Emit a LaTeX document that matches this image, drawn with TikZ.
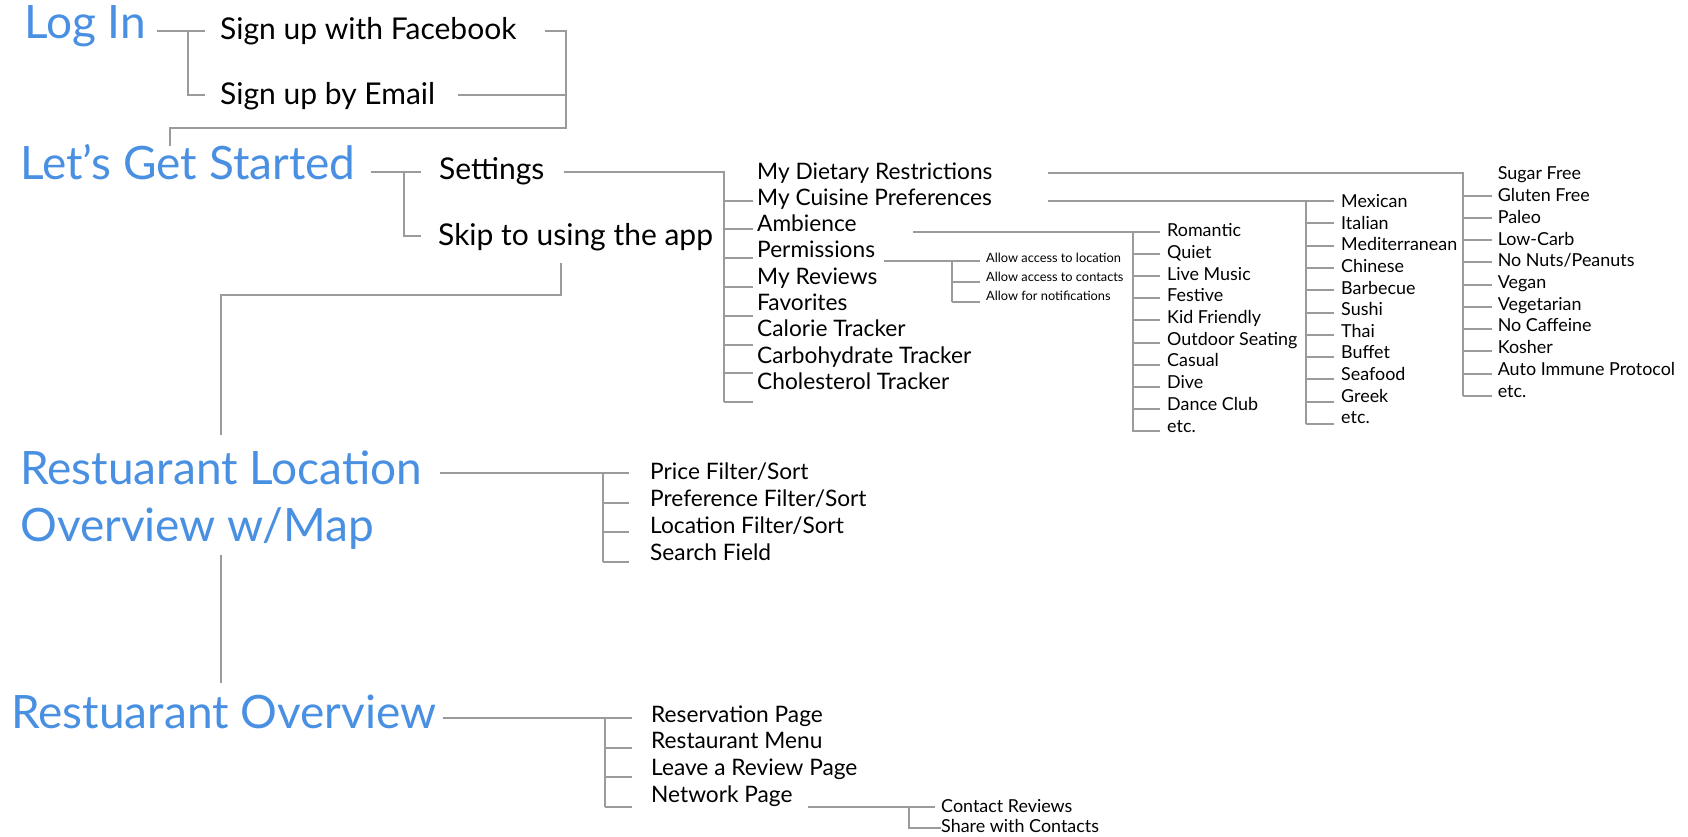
\documentclass[tikz,border=0pt]{standalone}
\usepackage{fontspec}
\setmainfont{Lato}
\definecolor{headblue}{HTML}{4A90E2}
\definecolor{linegray}{HTML}{9B9B9B}
\tikzset{
  head/.style={font=\fontsize{46}{52}\selectfont, text=headblue, inner sep=0pt, anchor=base west},
  choice/.style={font=\fontsize{30}{36}\selectfont, inner sep=0pt, anchor=base west},
  item/.style={font=\fontsize{22.7}{27}\selectfont, inner sep=0pt, anchor=base west},
  subitem/.style={font=\fontsize{17.9}{21}\selectfont, inner sep=0pt, anchor=base west},
  tinyitem/.style={font=\fontsize{12.8}{15}\selectfont, inner sep=0pt, anchor=base west},
  link/.style={draw=linegray, line width=2pt},
}
\begin{document}
\begin{tikzpicture}[x=1pt,y=-1pt]
  \useasboundingbox[fill=white] (0,0) rectangle (1688,837);

  % main screens
  \node[head] (login) at (24,38.5) {Log In};
  \node[head] (started) at (20,180) {Let’s Get Started};
  \node[head] (location) at (20,484) {Restuarant Location};
  \node[head] (locmap) at (20,541.7) {Overview w/Map};
  \node[head] (overview) at (11,728.3) {Restuarant Overview};

  % choices
  \node[choice] (facebook) at (220,39.3) {Sign up with Facebook};
  \node[choice] (email) at (220,105) {Sign up by Email};
  \node[choice] (settings) at (439,180) {Settings};
  \node[choice] (skip) at (438,245) {Skip to using the app};

  % settings menu
  \foreach \t [count=\i] in {My Dietary Restrictions,My Cuisine Preferences,Ambience,Permissions,My Reviews,Favorites,Calorie Tracker,Carbohydrate Tracker,Cholesterol Tracker}
    \node[item] (set\i) at (757,{179+26.3*(\i-1)}) {\t};

  % dietary restrictions
  \foreach \t [count=\i] in {Sugar Free,Gluten Free,Paleo,Low-Carb,No Nuts/Peanuts,Vegan,Vegetarian,No Caffeine,Kosher,Auto Immune Protocol,etc.}
    \node[subitem] (diet\i) at (1497.6,{180+21.7*(\i-1)}) {\t};

  % cuisine preferences
  \foreach \t [count=\i] in {Mexican,Italian,Mediterranean,Chinese,Barbecue,Sushi,Thai,Buffet,Seafood,Greek,etc.}
    \node[subitem] (cuis\i) at (1341,{207.7+21.6*(\i-1)}) {\t};

  % ambience
  \foreach \t [count=\i] in {Romantic,Quiet,Live Music,Festive,Kid Friendly,Outdoor Seating,Casual,Dive,Dance Club,etc.}
    \node[subitem] (amb\i) at (1167,{236.7+21.7*(\i-1)}) {\t};

  % permissions
  \node[tinyitem] (perm1) at (986,262.7) {Allow access to location};
  \node[tinyitem] (perm2) at (986,281.7) {Allow access to contacts};
  \node[tinyitem] (perm3) at (986,300.7) {Allow for notifications};

  % location overview
  \node[item] (price) at (650,479.7) {Price Filter/Sort};
  \node[item] (pref) at (650,506.6) {Preference Filter/Sort};
  \node[item] (locsort) at (650,533.5) {Location Filter/Sort};
  \node[item] (search) at (650,560.4) {Search Field};

  % restaurant overview
  \node[item] (reserve) at (651,722) {Reservation Page};
  \node[item] (menu) at (651,748.9) {Restaurant Menu};
  \node[item] (review) at (651,775.8) {Leave a Review Page};
  \node[item] (network) at (651,802.7) {Network Page};
  \node[subitem] (contact) at (941,812) {Contact Reviews};
  \node[subitem] (share) at (941,832) {Share with Contacts};

  % log in branches
  \coordinate (loginA) at (188,31);
  \coordinate (loginB) at (188,95);
  \draw[link,shorten <=11pt] (login.east |- loginA) -- (loginA);
  \draw[link,shorten >=15pt] (loginA) -- (facebook.west |- loginA);
  \draw[link,shorten >=15pt] (loginA) -- (loginB) -- (email.west |- loginB);

  % back to the start screen
  \coordinate (joinA) at (566,31);
  \coordinate (joinB) at (566,95);
  \coordinate (joinC) at (566,128);
  \coordinate (joinD) at (170,128);
  \draw[link,shorten <=28pt] (facebook.east |- joinA) -- (joinA) -- (joinC) -- (joinD) -- ++(0,18);
  \draw[link,shorten <=23pt] (email.east |- joinB) -- (joinB);

  % start screen
  \coordinate (startA) at (404,172);
  \coordinate (startB) at (404,236);
  \draw[link,shorten <=15pt,shorten >=18pt] (started.east |- startA) -- (settings.west |- startA);
  \draw[link,shorten >=17pt] (startA) -- (startB) -- (skip.west |- startB);

  % settings trunk
  \coordinate (setT) at (724,172);
  \draw[link,shorten <=19pt] (settings.east |- setT) -- (setT) -- (724,402);
  \foreach \i in {1,...,8}
    \draw[link] (724,{round(171.7+28.8*\i)}) -- ++(29,0);

  % dietary branch
  \coordinate (dietS) at (1048,173);
  \coordinate (dietT) at (1463,173);
  \draw[link] (dietS) -- (dietT) -- (1463,396);
  \foreach \i in {1,...,10}
    \draw[link] (1463,{round(173.3+22.27*\i)}) -- ++(28.5,0);

  % cuisine branch
  \coordinate (cuisS) at (1048,201);
  \coordinate (cuisT) at (1306,201);
  \draw[link,shorten >=7.5pt] (cuisS) -- (cuis1.west |- cuisS);
  \draw[link] (cuisT) -- (1306,424);
  \foreach \i in {1,...,10}
    \draw[link] (1306,{round(201+22.3*\i)}) -- ++(27.6,0);

  % ambience branch
  \coordinate (ambS) at (913,232);
  \coordinate (ambT) at (1133,232);
  \draw[link,shorten >=7.5pt] (ambS) -- (amb1.west |- ambS);
  \draw[link] (ambT) -- (1133,432);
  \foreach \i in {1,...,9}
    \draw[link] (1133,{round(231.7+22.2*\i)}) -- ++(26.5,0);

  % permissions branch
  \coordinate (permT) at (952,261);
  \draw[link,shorten <=9pt,shorten >=6pt] (set4.east |- permT) -- (perm1.west |- permT);
  \draw[link] (permT) -- (952,302);
  \draw[link] (952,282) -- ++(28,0);
  \draw[link] (952,302) -- ++(28,0);

  % skip to the location screen
  \coordinate (skipA) at (561,295);
  \coordinate (skipB) at (221,295);
  \draw[link,shorten <=12pt,shorten >=15pt] (skipA |- skip.south) -- (skipA) -- (skipB) -- (skipB |- location.north);
  \draw[link,shorten <=5pt,shorten >=12pt] (skipB |- locmap.south) -- (skipB |- overview.north);

  % location filters
  \coordinate (locA) at (603,473);
  \draw[link,shorten <=18pt,shorten >=21.4pt] (location.east |- locA) -- (price.west |- locA);
  \draw[link] (locA) -- (603,562);
  \foreach \y in {503,532,562}
    \draw[link] (603,\y) -- ++(26,0);

  % restaurant pages
  \coordinate (ovA) at (605,718);
  \draw[link,shorten <=6pt,shorten >=19pt] (overview.east |- ovA) -- (reserve.west |- ovA);
  \draw[link] (ovA) -- (605,807);
  \foreach \y in {748,777,807}
    \draw[link] (605,\y) -- ++(27,0);

  % network page
  \coordinate (netA) at (909,807);
  \draw[link,shorten <=15pt,shorten >=6pt] (network.east |- netA) -- (contact.west |- netA);
  \draw[link] (netA) -- (909,828) -- (share.west |- 0,828);
\end{tikzpicture}
\end{document}
